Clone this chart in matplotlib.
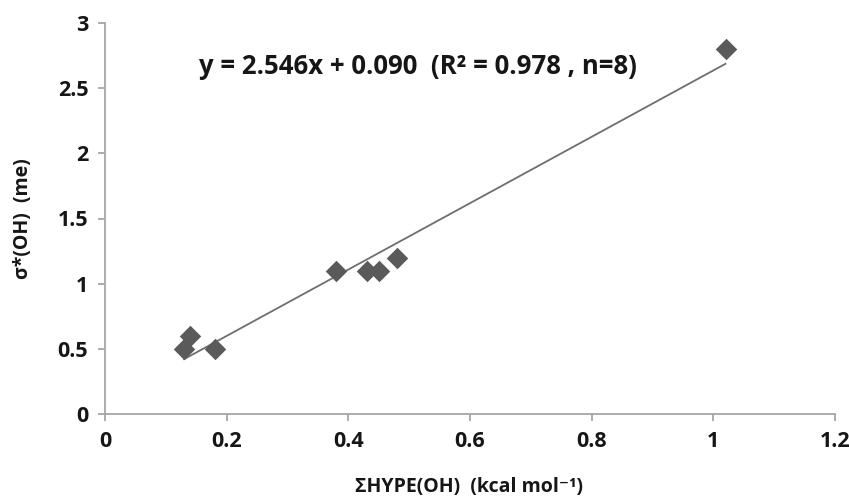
import numpy as np
import matplotlib
matplotlib.use("Agg")
import matplotlib.pyplot as plt
from matplotlib.ticker import FuncFormatter

# data
hype_oh = [0.13, 0.14, 0.18, 0.38, 0.43, 0.45, 0.48, 1.02]
sigma_oh = [0.5, 0.6, 0.5, 1.1, 1.1, 1.1, 1.2, 2.8]
slope = 2.546
intercept = 0.090
r2 = 0.978

x_ticks = [0, 0.2, 0.4, 0.6, 0.8, 1.0, 1.2]
y_ticks = [0, 0.5, 1.0, 1.5, 2.0, 2.5, 3.0]

plt.rcParams['font.family'] = ['Open Sans', 'DejaVu Sans']

fig = plt.figure(figsize=(8.49, 5.03), dpi=100)
ax = fig.add_axes([105 / 849, 1 - 414 / 503, 730 / 849, 391 / 503])

axis_grey = '#a6a6a6'
text_col = '#161616'
ax.scatter(hype_oh, sigma_oh, marker='D', s=120, color='#5a5a5a', zorder=3, linewidths=0)

# linear trendline over the data range
xs = np.array([min(hype_oh), max(hype_oh)])
ax.plot(xs, slope * xs + intercept, color='#6e6e6e', lw=1.3, zorder=2)

ax.text(0.515, 2.67,
        f'y = {slope:.3f}x + {intercept:.3f}  (R² = {r2:.3f} , n={len(hype_oh)})',
        ha='center', va='center', fontsize=18.5, fontweight='bold', color=text_col)

ax.set_xlim(0, 1.2)
ax.set_ylim(0, 3)
ax.set_xticks(x_ticks)
ax.set_yticks(y_ticks)
fmt = FuncFormatter(lambda v, p: f'{v:g}')
ax.xaxis.set_major_formatter(fmt)
ax.yaxis.set_major_formatter(fmt)

for side in ['top', 'right']:
    ax.spines[side].set_visible(False)
for side in ['left', 'bottom']:
    ax.spines[side].set_color(axis_grey)
    ax.spines[side].set_linewidth(1.3)
ax.tick_params(direction='out', length=5, width=1.3, color=axis_grey,
               labelsize=15.5, labelcolor=text_col, pad=7)
for lab in ax.get_xticklabels() + ax.get_yticklabels():
    lab.set_fontweight('bold')

ax.set_xlabel('ΣHYPE(OH)  (kcal mol⁻¹)', fontsize=14, fontweight='bold', color=text_col)
ax.set_ylabel('σ*(OH)  (me)', fontsize=14, fontweight='bold', color=text_col)
ax.xaxis.set_label_coords((469 - 105) / 730, (414 - 487) / 391)
ax.yaxis.set_label_coords((23 - 105) / 730, 0.5)
ax.xaxis.label.set_va('center')
ax.yaxis.label.set_va('center')

fig.savefig('out.png', dpi=100)
